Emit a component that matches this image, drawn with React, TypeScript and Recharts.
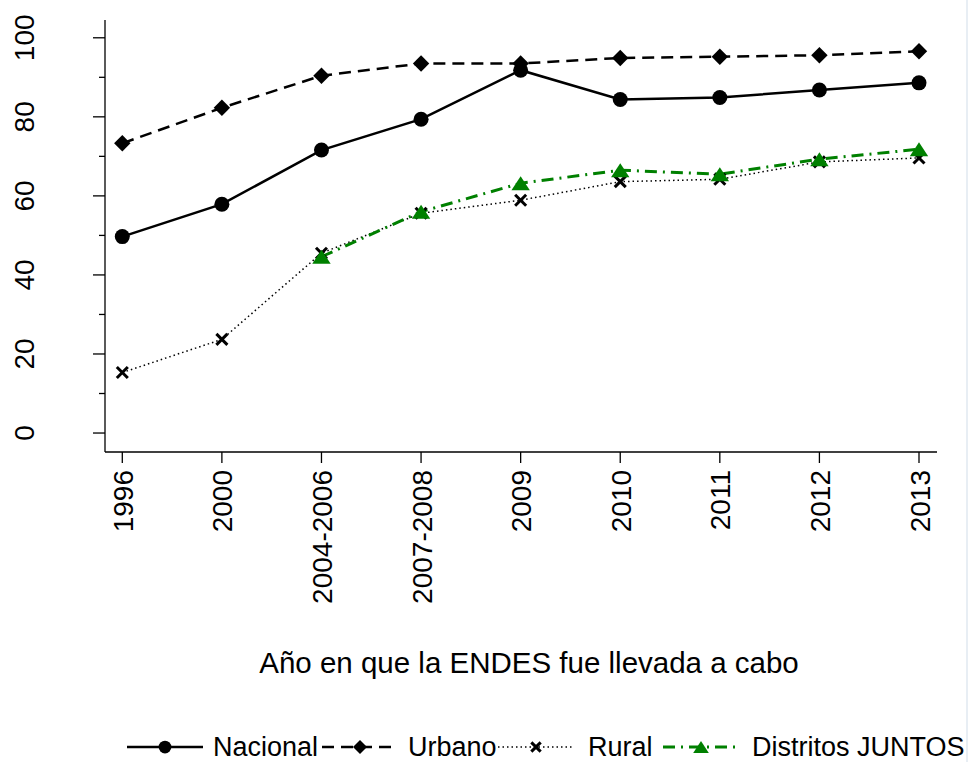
import React from 'react';
import { LineChart, Line, XAxis, YAxis } from 'recharts';

// Survey rounds (ENDES) and coverage percentages by area
const categories = ['1996', '2000', '2004-2006', '2007-2008', '2009', '2010', '2011', '2012', '2013'];
const nacional = [49.7, 57.9, 71.6, 79.4, 91.8, 84.4, 84.9, 86.8, 88.6];
const urbano = [73.3, 82.3, 90.4, 93.5, 93.5, 94.9, 95.2, 95.6, 96.6];
const rural = [15.3, 23.7, 45.5, 55.6, 58.9, 63.6, 64.2, 68.6, 69.6];
const juntos: (number | null)[] = [null, null, 44.6, 56.0, 63.2, 66.5, 65.5, 69.3, 71.8];

const yTicks = [0, 10, 20, 30, 40, 50, 60, 70, 80, 90, 100];
const yDomain: [number, number] = [-4.8, 104.5];
const xTitle = 'Año en que la ENDES fue llevada a cabo';

const seriesNames = ['Nacional', 'Urbano', 'Rural', 'Distritos JUNTOS'];

const data = categories.map((c, i) => ({
  cat: c,
  nacional: nacional[i],
  urbano: urbano[i],
  rural: rural[i],
  juntos: juntos[i],
}));

const FONT = '"Liberation Sans", Arial, Helvetica, sans-serif';
const GREEN = '#008000';

type Mark = 'circle' | 'diamond' | 'cross' | 'triangle';

const Marker = ({ kind, cx, cy, s = 1 }: { kind: Mark; cx: number; cy: number; s?: number }) => {
  if (kind === 'circle') return <circle cx={cx} cy={cy} r={7.5 * s} fill="#000" />;
  if (kind === 'diamond') {
    const d = 8.2 * s;
    return <polygon points={`${cx},${cy - d} ${cx + d},${cy} ${cx},${cy + d} ${cx - d},${cy}`} fill="#000" />;
  }
  if (kind === 'cross') {
    const d = 5.5 * s;
    return (
      <g stroke="#000" strokeWidth={3}>
        <line x1={cx - d} y1={cy - d} x2={cx + d} y2={cy + d} />
        <line x1={cx - d} y1={cy + d} x2={cx + d} y2={cy - d} />
      </g>
    );
  }
  const w = 9.2 * s;
  const h = 7 * s;
  return <polygon points={`${cx},${cy - h} ${cx + w},${cy + h} ${cx - w},${cy + h}`} fill={GREEN} />;
};

const makeDot = (kind: Mark, name: string) => (props: any) => {
  const { cx, cy, index, value } = props;
  if (value == null || cy == null || isNaN(cy)) return <g key={`${name}-${index}`} />;
  return (
    <g key={`${name}-${index}`}>
      <Marker kind={kind} cx={cx} cy={cy} />
    </g>
  );
};

const YTick = (props: any) => {
  const { x, y, payload } = props;
  const major = payload.value % 20 === 0;
  return (
    <g>
      <line x1={x - (major ? 12 : 6)} x2={x} y1={y} y2={y} stroke="#000" strokeWidth={1.3} />
      {major && (
        <text
          transform={`translate(${x - 71.5}, ${y}) rotate(-90)`}
          textAnchor="middle"
          fontSize={28}
          fontFamily={FONT}
          fill="#000"
        >
          {payload.value}
        </text>
      )}
    </g>
  );
};

const XTick = (props: any) => {
  const { x, y, payload } = props;
  return (
    <g>
      <line x1={x} x2={x} y1={y} y2={y + 11} stroke="#000" strokeWidth={1.3} />
      <text
        transform={`translate(${x + 10.5}, ${y + 18}) rotate(-90)`}
        textAnchor="end"
        fontSize={28}
        fontFamily={FONT}
        fill="#000"
      >
        {payload.value}
      </text>
    </g>
  );
};

const XTitle = (props: any) => {
  const { viewBox } = props;
  return (
    <text
      x={viewBox.x + viewBox.width / 2 + 8}
      y={viewBox.y + 221}
      textAnchor="middle"
      fontSize={29.5}
      fontFamily={FONT}
      fill="#000"
    >
      {xTitle}
    </text>
  );
};

// Key entries: line sample style plus where each entry starts and its label offset
const legendStyles: { kind: Mark; stroke: string; dash?: string; width: number; left: number; textLeft: number }[] = [
  { kind: 'circle', stroke: '#000', width: 2.5, left: 127, textLeft: 86 },
  { kind: 'diamond', stroke: '#000', dash: '12 7', width: 2.5, left: 322, textLeft: 86 },
  { kind: 'cross', stroke: '#000', dash: '1.5 3', width: 1.5, left: 498, textLeft: 90 },
  { kind: 'triangle', stroke: GREEN, dash: '12 6 2 6', width: 3, left: 663, textLeft: 89 },
];

const ChartKey = () => (
  <div style={{ position: 'absolute', left: 0, top: 731, width: 979, height: 32, fontFamily: FONT, fontSize: 27, color: '#000' }}>
    {seriesNames.map((name, i) => {
      const st = legendStyles[i];
      return (
        <div key={name} style={{ position: 'absolute', left: st.left, top: 0, height: 32, whiteSpace: 'nowrap' }}>
          <svg width={76} height={20} style={{ position: 'absolute', left: 0, top: 6 }}>
            <line x1={0} x2={76} y1={10} y2={10} stroke={st.stroke} strokeWidth={st.width} strokeDasharray={st.dash} />
            <Marker kind={st.kind} cx={38} cy={10} s={0.85} />
          </svg>
          <span style={{ position: 'absolute', left: st.textLeft, top: 0, lineHeight: '32px' }}>{name}</span>
        </div>
      );
    })}
  </div>
);

export default function App() {
  return (
    <div style={{ position: 'absolute', left: 0, top: 0, width: 979, height: 762, background: '#fff' }}>
      <div style={{ position: 'absolute', left: 966, top: 0, width: 2, height: 762, background: '#e8eef4' }} />
      <LineChart width={979} height={762} data={data} margin={{ top: 20, right: 42, bottom: 0, left: 0 }}>
        <XAxis
          dataKey="cat"
          type="category"
          height={310}
          padding={{ left: 17.3, right: 18 }}
          interval={0}
          tickSize={0}
          tickMargin={0}
          tickLine={false}
          axisLine={{ stroke: '#000', strokeWidth: 1.3 }}
          tick={<XTick />}
          label={<XTitle />}
        />
        <YAxis
          type="number"
          width={105}
          domain={yDomain}
          ticks={yTicks}
          interval={0}
          allowDataOverflow
          tickSize={0}
          tickMargin={0}
          tickLine={false}
          axisLine={{ stroke: '#000', strokeWidth: 1.3 }}
          tick={<YTick />}
        />
        <Line
          dataKey="nacional"
          name={seriesNames[0]}
          stroke="#000"
          strokeWidth={2.5}
          dot={makeDot('circle', 'nacional')}
          activeDot={false}
          isAnimationActive={false}
        />
        <Line
          dataKey="urbano"
          name={seriesNames[1]}
          stroke="#000"
          strokeWidth={2.5}
          strokeDasharray="12 7"
          dot={makeDot('diamond', 'urbano')}
          activeDot={false}
          isAnimationActive={false}
        />
        <Line
          dataKey="rural"
          name={seriesNames[2]}
          stroke="#000"
          strokeWidth={1.5}
          strokeDasharray="1.5 3"
          dot={makeDot('cross', 'rural')}
          activeDot={false}
          isAnimationActive={false}
        />
        <Line
          dataKey="juntos"
          name={seriesNames[3]}
          stroke={GREEN}
          strokeWidth={3}
          strokeDasharray="12 6 2 6"
          dot={makeDot('triangle', 'juntos')}
          activeDot={false}
          isAnimationActive={false}
        />
      </LineChart>
      <ChartKey />
    </div>
  );
}
